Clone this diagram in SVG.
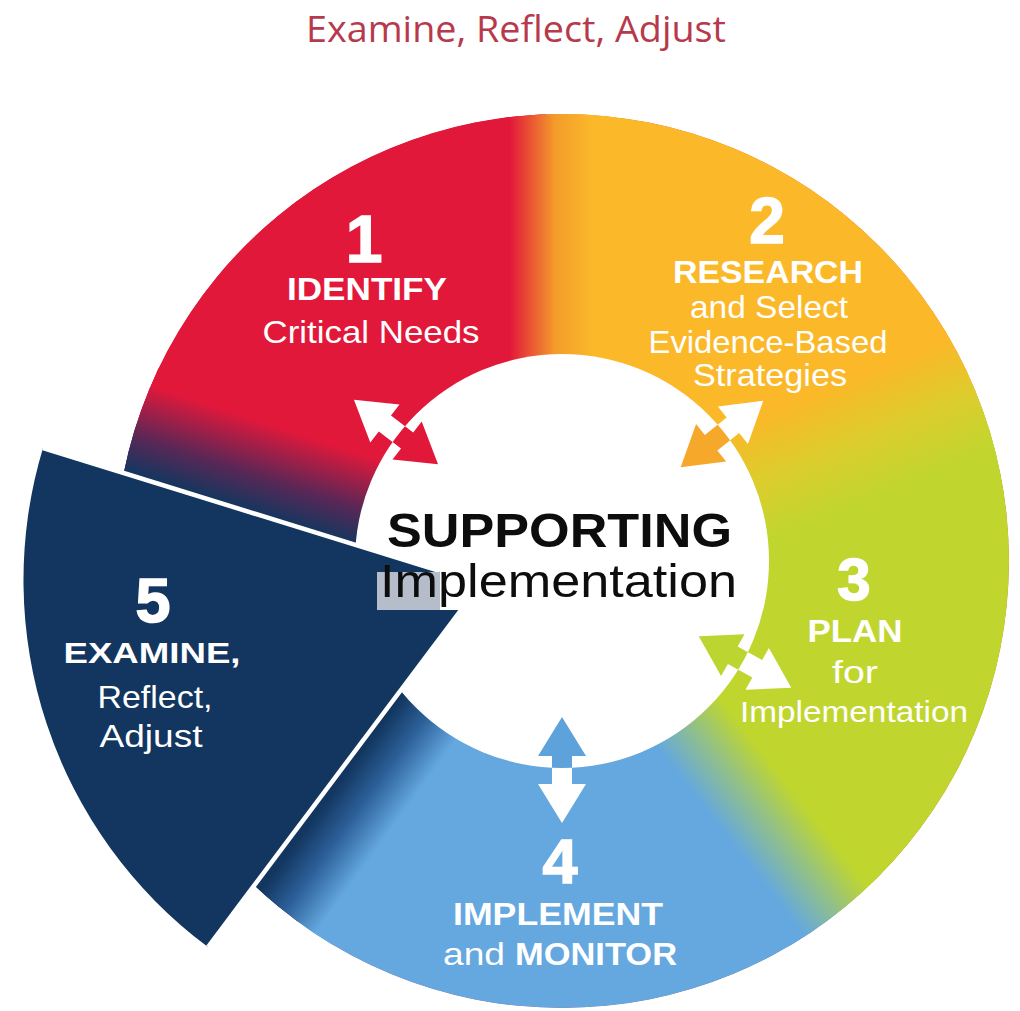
<svg xmlns="http://www.w3.org/2000/svg" xmlns:xlink="http://www.w3.org/1999/xlink" width="1020" height="1011" viewBox="0 0 1020 1011">
<style>
.t{font-family:"Liberation Sans",Arial,Helvetica,sans-serif;fill:#fff;text-anchor:middle}
.b{font-weight:700}
.d{font-weight:700;stroke:#fff;stroke-width:1.5}
.k{fill:#0d0d0d}
.edge{stroke:#fff;stroke-width:4.5;fill:none}
</style>
<defs>
<clipPath id="outer"><circle cx="562" cy="561" r="447"/></clipPath>
<clipPath id="inner"><circle cx="562" cy="561" r="207"/></clipPath>
<path id="dbl" d="M-53 0L-14 -24V-10H14V-24L53 0L14 24V10H-14V24Z"/>
<linearGradient id="g1" gradientUnits="userSpaceOnUse" x1="510" y1="0" x2="592" y2="0">
<stop offset="0" stop-color="#e2183b"/><stop offset="0.55" stop-color="#f39c2b"/><stop offset="1" stop-color="#fbb829"/>
</linearGradient>
<linearGradient id="g2" gradientUnits="userSpaceOnUse" x1="864" y1="374.3" x2="909" y2="485.5">
<stop offset="0" stop-color="#fbb829"/><stop offset="0.5" stop-color="#dccd2d"/><stop offset="1" stop-color="#c0d62f"/>
</linearGradient>
<linearGradient id="g3" gradientUnits="userSpaceOnUse" x1="809" y1="812.2" x2="746" y2="861.4">
<stop offset="0" stop-color="#bfd62f"/><stop offset="0.5" stop-color="#90bf8c"/><stop offset="1" stop-color="#64a8df"/>
</linearGradient>
<linearGradient id="g4" gradientUnits="userSpaceOnUse" x1="315.8" y1="814.8" x2="372" y2="855.6">
<stop offset="0" stop-color="#12365f"/><stop offset="0.45" stop-color="#2c5f98"/><stop offset="1" stop-color="#64a8df"/>
</linearGradient>
<linearGradient id="g5" gradientUnits="userSpaceOnUse" x1="214.3" y1="498.6" x2="241.5" y2="414.9">
<stop offset="0" stop-color="#15365f"/><stop offset="0.4" stop-color="#5a2756"/><stop offset="1" stop-color="#e2183b"/>
</linearGradient>
</defs>
<rect width="1020" height="1011" fill="#fff"/>
<text id="title" x="516" y="42" font-family="'Open Sans',sans-serif" font-size="37" fill="#b73a4c" text-anchor="middle" textLength="420" lengthAdjust="spacingAndGlyphs">Examine, Reflect, Adjust</text>

<g id="ring" clip-path="url(#outer)">
<circle cx="562" cy="561" r="447" fill="#e2183b"/>
<path d="M562 561L150.5 1127.3L-103.8 344.7Z" fill="#12365f"/>
<path d="M562 561L-103.8 344.7L537.6 -138.6Z" fill="#e2183b"/>
<path d="M562 561L537.6 -138.6L1211 298.8Z" fill="#fbb829"/>
<path d="M562 561L1211 298.8L993 1112.6Z" fill="#c0d62f"/>
<path d="M562 561L993 1112.6L150.5 1127.3Z" fill="#64a8df"/>
<rect x="500" y="100" width="115" height="320" fill="url(#g1)"/>
<path d="M674.9 439.9L1092.1 271.3L1144.5 401.1L727.3 569.7Z" fill="url(#g2)"/>
<path d="M701.7 642.3L978.7 996.9L884.1 1070.7L607.1 716.1Z" fill="url(#g3)"/>
<path d="M409.1 635.4L144.6 999.4L241.7 1069.9L506.2 705.9Z" fill="url(#g4)"/>
<path d="M397.7 581.3L-30.3 442.2L9.8 318.5L437.8 457.6Z" fill="url(#g5)"/>
</g>
<circle id="hub" cx="562" cy="561" r="207" fill="#fff"/>

<g id="connectors">
<use href="#dbl" transform="translate(396 432) rotate(217.5)" fill="#fff"/>
<use href="#dbl" transform="translate(722 434) rotate(321.2)" fill="#fff"/>
<use href="#dbl" transform="translate(745 662) rotate(29.2)" fill="#fff"/>
<use href="#dbl" transform="translate(562 770) rotate(90)" fill="#fff"/>
<g clip-path="url(#inner)">
<use href="#dbl" transform="translate(396 432) rotate(217.5)" fill="#e2183b"/>
<use href="#dbl" transform="translate(722 434) rotate(321.2)" fill="#f6a82b"/>
<use href="#dbl" transform="translate(745 662) rotate(29.2)" fill="#bcd531"/>
<use href="#dbl" transform="translate(562 770) rotate(90)" fill="#5ea2dc"/>
</g>
</g>

<g id="seg5">
<path d="M43 448L440 571.1L440 610L461 610L208 947A457 457 0 0 1 43 448Z" fill="#12365f"/>
<line class="edge" x1="43" y1="448" x2="440" y2="571.1"/>
<line class="edge" x1="208" y1="947" x2="461" y2="610"/>
<rect x="377" y="572" width="63" height="38" fill="#b5bdcb"/>
<text class="t d" x="153" y="622" font-size="63">5</text>
<text class="t b" x="152" y="663" font-size="30" textLength="177" lengthAdjust="spacingAndGlyphs">EXAMINE,</text>
<text class="t" x="155" y="708" font-size="32" textLength="115" lengthAdjust="spacingAndGlyphs">Reflect,</text>
<text class="t" x="151" y="747" font-size="32" textLength="103" lengthAdjust="spacingAndGlyphs">Adjust</text>
</g>

<g id="center">
<text class="t b k" x="559.5" y="547" font-size="48" textLength="345" lengthAdjust="spacingAndGlyphs">SUPPORTING</text>
<text class="t k" x="558.5" y="597" font-size="46" textLength="357" lengthAdjust="spacingAndGlyphs">Implementation</text>
</g>

<g id="seg1">
<text class="t d" x="364" y="262" font-size="66">1</text>
<text class="t b" x="367" y="300" font-size="31" textLength="160" lengthAdjust="spacingAndGlyphs">IDENTIFY</text>
<text class="t" x="371" y="343" font-size="32" textLength="217" lengthAdjust="spacingAndGlyphs">Critical Needs</text>
</g>

<g id="seg2">
<text class="t d" x="767" y="243" font-size="64">2</text>
<text class="t b" x="768" y="283" font-size="31" textLength="190" lengthAdjust="spacingAndGlyphs">RESEARCH</text>
<text class="t" x="769" y="318" font-size="32" textLength="158" lengthAdjust="spacingAndGlyphs">and Select</text>
<text class="t" x="768" y="353" font-size="32" textLength="239" lengthAdjust="spacingAndGlyphs">Evidence-Based</text>
<text class="t" x="770" y="386" font-size="32" textLength="154" lengthAdjust="spacingAndGlyphs">Strategies</text>
</g>

<g id="seg3">
<text class="t d" x="854" y="600" font-size="60">3</text>
<text class="t b" x="855" y="642" font-size="31" textLength="95" lengthAdjust="spacingAndGlyphs">PLAN</text>
<text class="t" x="855" y="683" font-size="31" textLength="46" lengthAdjust="spacingAndGlyphs">for</text>
<text class="t" x="854" y="722" font-size="29" textLength="228" lengthAdjust="spacingAndGlyphs">Implementation</text>
</g>

<g id="seg4">
<text class="t d" x="560" y="883" font-size="63">4</text>
<text class="t b" x="558" y="925" font-size="32" textLength="210" lengthAdjust="spacingAndGlyphs">IMPLEMENT</text>
<text class="t" y="965" font-size="32" style="text-anchor:start"><tspan x="443" textLength="62" lengthAdjust="spacingAndGlyphs">and</tspan> <tspan x="515" font-weight="700" textLength="162" lengthAdjust="spacingAndGlyphs">MONITOR</tspan></text>
</g>
</svg>
